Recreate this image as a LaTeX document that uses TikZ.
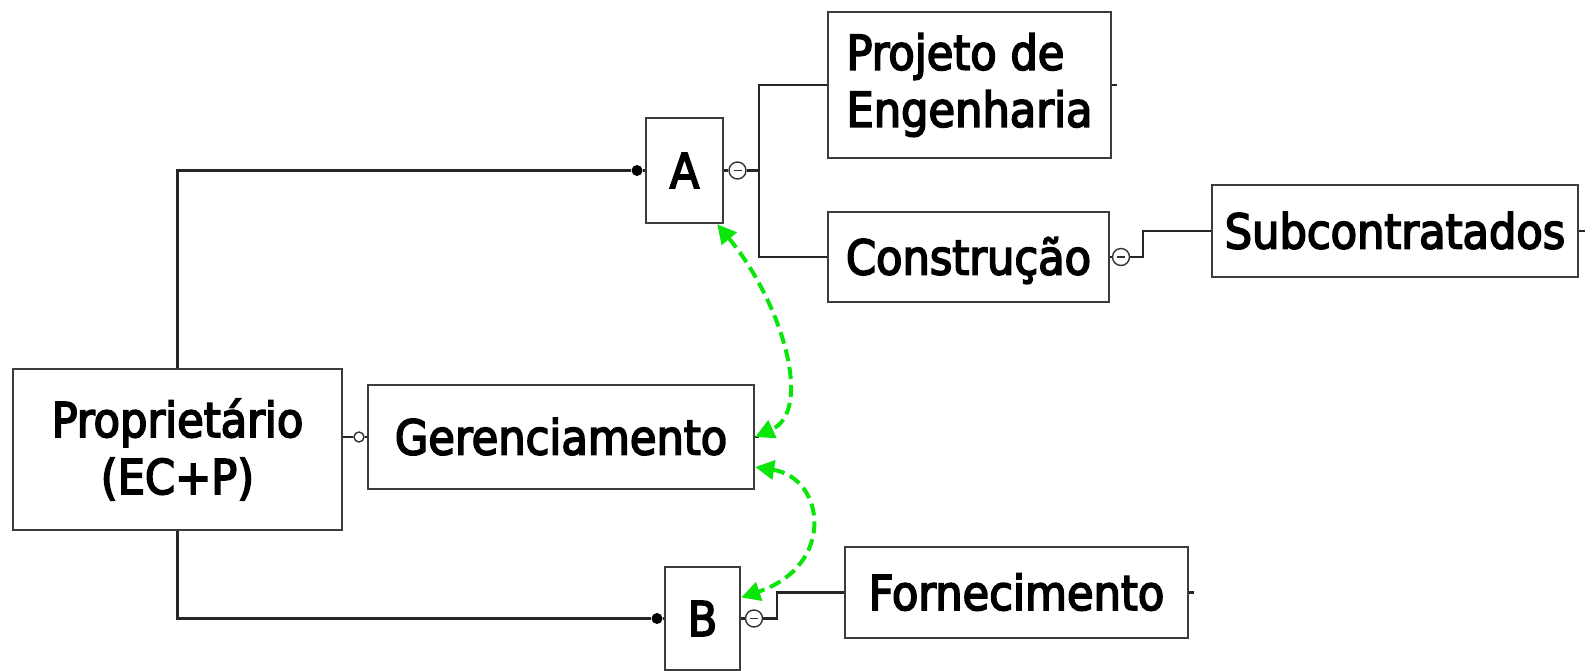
\documentclass[tikz,border=0pt]{standalone}
\usepackage{fontspec}
\newfontfamily\lblfont{DejaVu Sans Condensed}[FakeBold=3.5]
\usetikzlibrary{arrows.meta,calc}
\definecolor{lgreen}{RGB}{10,230,10}
\definecolor{lgray}{RGB}{60,60,60}
\begin{document}
\begin{tikzpicture}[x=1pt,y=1pt,
  box/.style={draw=lgray, line width=2.4pt, fill=white, inner sep=0pt, font=\lblfont\fontsize{48}{57}\selectfont},
  one/.style={text height=35pt, text depth=0pt},
  conn/.style={draw=black!85, line width=2.3pt},
  minus/.style={circle, draw=black!80, fill=white, line width=1.4pt, minimum size=17pt, inner sep=0pt,
    path picture={\draw[line width=1.5pt] ([xshift=4.5pt]path picture bounding box.west) -- ([xshift=-4.5pt]path picture bounding box.east);}},
  dotf/.style={circle, fill=black, minimum size=11pt, inner sep=0pt},
  doto/.style={circle, draw=black!80, fill=white, line width=1.4pt, minimum size=10pt, inner sep=0pt},
  link/.style={draw=lgreen, line width=4pt, dash pattern=on 12pt off 6pt,
    {Triangle[length=19pt,width=19pt]}-{Triangle[length=19pt,width=19pt]}}
]
\useasboundingbox (0,0) rectangle (1592,-671);

\node[box, minimum width=329pt, minimum height=161pt, align=center] (prop) at (177.5,-449.5) {Proprietário\\(EC+P)};
\node[box, one, minimum width=386pt, minimum height=104pt] (ger) at (561,-437) {Gerenciamento};
\node[box, one, minimum width=77pt, minimum height=105pt] (A) at (684.5,-170.5) {A};
\node[box, one, minimum width=75pt, minimum height=103pt] (B) at (702.5,-618.5) {B};
\node[box, minimum width=283pt, minimum height=146pt, align=left] (proj) at (969.5,-85) {Projeto de\\Engenharia};
\node[box, one, minimum width=281pt, minimum height=90pt] (cons) at (968.5,-257) {Construção};
\node[box, one, minimum width=366pt, minimum height=92pt] (sub) at (1395,-231) {Subcontratados};
\node[box, one, minimum width=343pt, minimum height=91pt] (forn) at (1016.5,-592.5) {Fornecimento};

\node[dotf] (dA) at (637,-170.5) {};
\node[minus] (mA) at (737.5,-170.5) {};
\coordinate (jA) at (759,-170.5);
\node[dotf] (dB) at (657,-618.5) {};
\node[minus] (mB) at (754,-618.5) {};
\node[minus] (mC) at (1121,-257) {};
\node[doto] (oG) at (359,-437) {};

\draw[conn] (prop.north) |- (dA.west);
\draw[conn] (dA) -- (A.west);
\draw[conn] (prop.south) |- (dB.west);
\draw[conn] (dB) -- (B.west);
\draw[conn] (oG.west -| prop.east) -- (oG.west);
\draw[conn] (oG.east) -- (ger.west);
\draw[conn] (A.east) -- (mA.west);
\draw[conn] (mA.east) -- (jA);
\draw[conn] (proj.west) -| (jA) |- (cons.west);
\draw[conn] (cons.east) -- (mC.west);
\draw[conn] (mC.east) -- ++(13,0) |- (sub.west);
\draw[conn] (B.east) -- (mB.west);
\draw[conn] (mB.east) -- ++(14,0) |- (forn.west);

\draw[conn] (proj.east) -- ++(5,0);
\draw[conn] (sub.east) -- ++(6,0);
\draw[conn] (forn.east) -- ++(5,0);
\draw[conn] (ger.east) -- ++(4,0);

\draw[link] ([xshift=-7pt]A.south east) .. controls +(64,-77) and +(59,27) .. (ger.east);
\draw[link] ([yshift=-30pt]ger.east) .. controls +(70,-11) and +(95,32) .. ([yshift=21pt]B.east);
\end{tikzpicture}
\end{document}
